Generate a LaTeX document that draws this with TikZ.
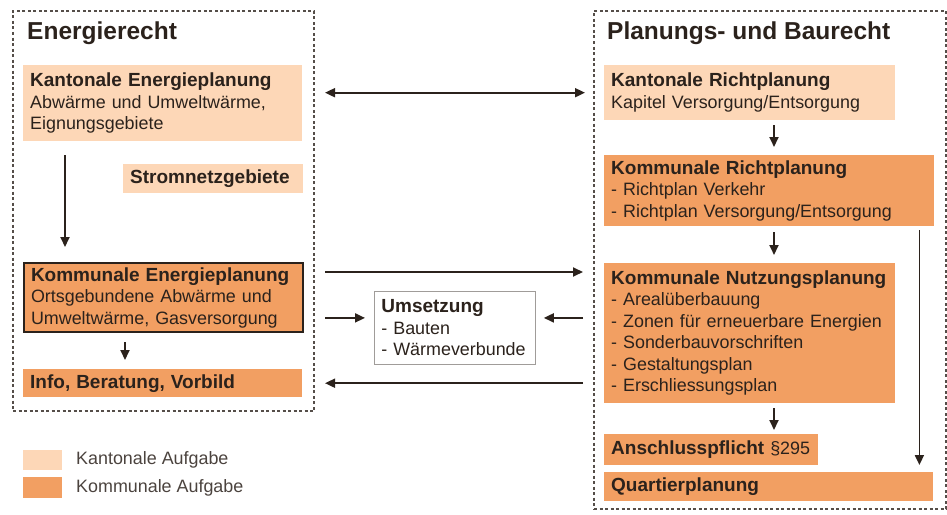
\documentclass[tikz,border=0pt]{standalone}
\usepackage{fontspec}
\setmainfont{Liberation Sans}
\usetikzlibrary{positioning,arrows.meta}

\definecolor{hell}{HTML}{FDD7B7}
\definecolor{dunkel}{HTML}{F29F62}
\definecolor{tinte}{HTML}{2B221C}

\newcommand{\kopf}[1]{\mbox{\fontsize{19}{21.5}\selectfont\bfseries #1}}

\begin{document}
\begin{tikzpicture}[
    x=1pt, y=-1pt,
    >={Triangle[length=10pt,width=9pt]},
    every node/.style={
        text=tinte,
        font=\fontsize{17.9}{21.5}\selectfont
    },
    feld/.style={
        rectangle,
        anchor=north west,
        align=left,
        inner xsep=7pt,
        inner ysep=0pt
    },
    kanton/.style={feld, fill=hell},
    kommune/.style={feld, fill=dunkel},
    rahmen/.style={
        rectangle,
        anchor=north west,
        draw=tinte!80,
        line width=2pt,
        dash pattern=on 3pt off 2.5pt
    },
    titel/.style={
        anchor=west,
        inner sep=0pt,
        font=\fontsize{24.5}{28}\selectfont\bfseries
    },
    pfeil/.style={->, draw=tinte, line width=1.8pt}
]
\useasboundingbox (0,0) rectangle (947,514);

% Rahmen
\node[rahmen, minimum width=301pt, minimum height=400pt] (recht) at (12,10) {};
\node[rahmen, minimum width=352pt, minimum height=498pt] (bau) at (593,10) {};
\node[titel] (t1) at (27,33) {Energierecht};
\node[titel] (t2) at (607,33) {Planungs- und Baurecht};

% Energierecht
\node[kanton, text width=265pt, minimum height=76pt] (kep) at (23,65)
    {\kopf{Kantonale Energieplanung}\\Abwärme und Umweltwärme,\\Eignungsgebiete};
\node[kanton, text width=166pt, minimum height=29pt] (strom) at (123,164)
    {\kopf{Stromnetzgebiete}};
\node[kommune, draw=tinte, line width=2pt, text width=265pt, minimum height=69pt] (kne) at (23,262)
    {\kopf{Kommunale Energieplanung}\\Ortsgebundene Abwärme und\\Umweltwärme, Gasversorgung};
\node[kommune, text width=265pt, minimum height=28pt] (info) at (23,369)
    {\kopf{Info, Beratung, Vorbild}};

% Umsetzung
\node[feld, draw=tinte!45, line width=0.8pt, fill=white, text width=147pt, minimum height=73pt] (ums) at (374,291)
    {\kopf{Umsetzung}\\- Bauten\\- Wärmeverbunde};

% Planungs- und Baurecht
\node[kanton, text width=277pt, minimum height=55pt] (krp) at (604,65)
    {\kopf{Kantonale Richtplanung}\\Kapitel Versorgung/Entsorgung};
\node[kommune, text width=316pt, minimum height=71pt] (krk) at (604,155)
    {\kopf{Kommunale Richtplanung}\\- Richtplan Verkehr\\- Richtplan Versorgung/Entsorgung};
\node[kommune, text width=277pt, minimum height=140pt] (knp) at (604,263)
    {\kopf{Kommunale Nutzungsplanung}\\- Arealüberbauung\\- Zonen für erneuerbare Energien\\- Sonderbauvorschriften\\- Gestaltungsplan\\- Erschliessungsplan};
\node[kommune, text width=200pt, minimum height=31pt] (ansch) at (604,434)
    {\mbox{\kopf{Anschlusspflicht} §295}};
\node[kommune, text width=315pt, minimum height=29pt] (quart) at (604,472)
    {\kopf{Quartierplanung}};

% Legende
\node[feld, fill=hell, minimum width=39pt, minimum height=20pt] (lk) at (23,450) {};
\node[feld, fill=dunkel, minimum width=39pt, minimum height=21pt] (lg) at (23,477) {};
\node[anchor=west, inner sep=0pt, text=tinte!85] (lkt) at (76,460) {Kantonale Aufgabe};
\node[anchor=west, inner sep=0pt, text=tinte!85] (lgt) at (76,488) {Kommunale Aufgabe};

% Pfeile links
\draw[pfeil, shorten <=14pt, shorten >=15pt] ([xshift=42pt]kep.south west) -- ([xshift=42pt]kne.north west);
\draw[pfeil, shorten <=9pt, shorten >=9pt] ([xshift=102pt]kne.south west) -- ([xshift=102pt]info.north west);

% Pfeile Mitte
\draw[pfeil, <->, shorten <=10pt, shorten >=8pt] (recht.east |- krp.west) -- (bau.west |- krp.west);
\draw[pfeil, shorten <=10pt, shorten >=10pt] ([yshift=-10pt]kne.north -| recht.east) -- ([yshift=-10pt]kne.north -| bau.west);
\draw[pfeil, shorten <=10pt, shorten >=9pt] ([yshift=10pt]ums.west -| recht.east) -- ([yshift=10pt]ums.west);
\draw[pfeil, shorten <=10pt, shorten >=8pt] ([yshift=10pt]ums.east -| bau.west) -- ([yshift=10pt]ums.east);
\draw[pfeil, shorten <=10pt, shorten >=10pt] (info -| bau.west) -- (info -| recht.east);

% Pfeile rechts
\draw[pfeil, shorten <=5pt, shorten >=8pt] ([xshift=170pt]krp.south west) -- ([xshift=170pt]krk.north west);
\draw[pfeil, shorten <=6pt, shorten >=8pt] ([xshift=170pt]krk.south west) -- ([xshift=170pt]knp.north west);
\draw[pfeil, shorten <=5pt, shorten >=4pt] ([xshift=170pt]knp.south west) -- ([xshift=170pt]ansch.north west);
\draw[pfeil, shorten <=4pt, shorten >=7pt] ([xshift=-15pt]krk.south east) -- ([xshift=-14pt]quart.north east);

\end{tikzpicture}
\end{document}
